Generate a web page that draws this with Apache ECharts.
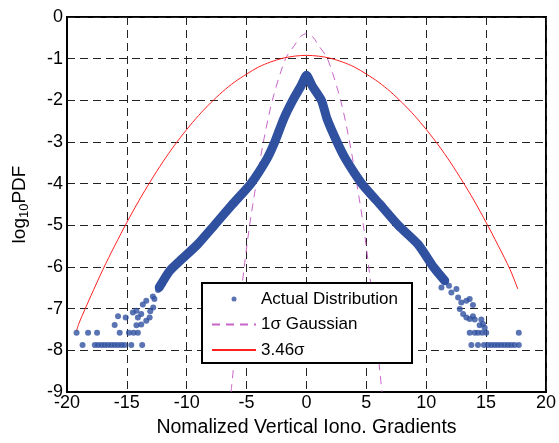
<!DOCTYPE html>
<html>
<head>
<meta charset="utf-8">
<script src="https://cdn.jsdelivr.net/npm/echarts@6/dist/echarts.min.js"></script>
<style>
  html, body { margin: 0; padding: 0; background: #fff; }
  #chart { width: 559px; height: 443px; }
</style>
</head>
<body>
<div id="chart"></div>
<script>
// axis ticks
const xTicks = [-20, -15, -10, -5, 0, 5, 10, 15, 20];
const yTicks = [-9, -8, -7, -6, -5, -4, -3, -2, -1, 0];

// 3.46 sigma gaussian (log10 pdf)
const redX = [-19.2, -19, -18, -17, -16, -15, -14, -13, -12, -11, -10, -9, -8, -7, -6, -5, -4, -3, -2, -1, 0,
  1, 2, 3, 4, 5, 6, 7, 8, 9, 10, 11, 12, 13, 14, 15, 16, 17, 17.65];
const redY = [-7.53, -7.35, -6.69, -6.06, -5.48, -4.93, -4.41, -3.93, -3.48, -3.07, -2.70, -2.36, -2.06, -1.79, -1.56, -1.37, -1.20, -1.08, -0.99, -0.94, -0.92,
  -0.94, -0.99, -1.08, -1.20, -1.37, -1.56, -1.79, -2.06, -2.36, -2.70, -3.07, -3.48, -3.93, -4.41, -4.93, -5.48, -6.06, -6.53];

// 1 sigma gaussian
const magX = [-6.3, -5.95, -5.6, -5.2, -4.75, -4.2, -3.6, -2.85, -1.75, -1.0, -0.5, 0, 0.5, 1.0, 1.75, 2.85, 3.6, 4.2, 4.75, 5.2, 5.6, 5.95, 6.3];
const magY = [-9, -8, -7, -6, -5, -4, -3, -2, -1, -0.68, -0.47, -0.40, -0.47, -0.68, -1, -2, -3, -4, -5, -6, -7, -8, -9];

// dense part of the actual distribution (thick band of dots)
const bandX = [-12.3, -11.45, -10.6, -9.1, -7.7, -6.2, -4.65, -3.3, -2.65, -1.9, -1.15, -0.45, 0,
  0.47, 1.25, 1.71, 2.55, 3.25, 4.62, 6.15, 7.67, 9.33, 10.6, 11.55];
const bandY = [-6.49, -6.1, -5.86, -5.46, -5.0, -4.5, -4.0, -3.4, -3.0, -2.44, -2.0, -1.65, -1.40,
  -1.65, -2.0, -2.44, -3.0, -3.4, -4.0, -4.5, -5.0, -5.46, -6.0, -6.33];

// sparse tail points of the actual distribution
const tailX = [
  -19.2, -18.24, -17.49, -15.6, -14.83, -14.44, -14.08,
  -18.7, -17.68, -17.4, -17.12, -16.85, -16.57, -16.29, -16.02, -15.74, -15.46, -15.19, -14.63, -13.72,
  -15.74, -16.02, -15.1, -14.5, -14.08, -13.8, -13.8, -13.38, -13.1, -13.05, -13.38, -12.7, -12.8, -14.2, -13.67, -12.83, -14.2, -12.4, -12.0,
  13.63, 14.05, 14.32, 14.66, 15.01, 17.73,
  13.77, 14.32, 14.82, 15.15, 15.43, 15.71, 15.98, 16.26, 16.54, 16.82, 17.09, 17.37, 17.73,
  11.27, 12.1, 12.52, 12.66, 12.93, 13.35, 13.63, 13.9, 12.8, 13.08, 13.35, 13.63, 13.9, 14.05, 14.6, 14.46, 14.88, 14.74, 11.55, 11.9, 11.4
];
const tailY = [
  -7.58, -7.58, -7.58, -7.58, -7.58, -7.58, -7.58,
  -7.87, -7.87, -7.87, -7.87, -7.87, -7.87, -7.87, -7.87, -7.87, -7.87, -7.87, -7.87, -7.87,
  -7.18, -7.39, -7.21, -7.09, -7.21, -7.13, -7.38, -7.29, -7.21, -7.06, -6.81, -6.77, -6.97, -7.4, -6.9, -6.71, -7.05, -6.55, -6.4,
  -7.58, -7.58, -7.58, -7.58, -7.58, -7.58,
  -7.87, -7.87, -7.87, -7.87, -7.87, -7.87, -7.87, -7.87, -7.87, -7.87, -7.87, -7.87, -7.87,
  -6.49, -6.61, -6.53, -6.73, -6.85, -6.81, -6.77, -6.91, -7.01, -7.13, -7.21, -7.25, -7.18, -7.26, -7.26, -7.4, -7.46, -7.37, -6.33, -6.45, -6.25
];

const zip = (xs, ys) => xs.map((x, i) => [x, ys[i]]);

const font = 'Liberation Sans, Arial, sans-serif';
const blue = '#3050A0';

const chart = echarts.init(document.getElementById('chart'));
chart.setOption({
  animation: false,
  backgroundColor: '#fff',
  grid: {
    left: 67,
    right: 11,
    top: 17,
    bottom: 47,
    show: true,
    borderColor: '#000',
    borderWidth: 2
  },
  legend: {
    left: 202,
    top: 283,
    orient: 'vertical',
    selectedMode: false,
    backgroundColor: '#fff',
    borderColor: '#000',
    borderWidth: 2,
    borderRadius: 0,
    padding: [7, 14, 4, 9],
    itemWidth: 44,
    itemHeight: 5,
    itemGap: 7.5,
    textStyle: { fontSize: 17, lineHeight: 18, color: '#000', fontFamily: font },
    data: [
      { name: 'Actual Distribution', icon: 'circle' },
      { name: '1σ Gaussian', itemStyle: { opacity: 0 } },
      { name: '3.46σ', itemStyle: { opacity: 0 } }
    ]
  },
  xAxis: {
    type: 'value',
    min: xTicks[0],
    max: xTicks[xTicks.length - 1],
    interval: 5,
    name: 'Nomalized Vertical Iono. Gradients',
    nameLocation: 'middle',
    nameGap: 26,
    nameTextStyle: { fontSize: 19.5, color: '#000', fontFamily: font },
    axisLine: { onZero: false, lineStyle: { color: '#000', width: 2 } },
    axisTick: { show: false },
    axisLabel: { fontSize: 18, color: '#000', fontFamily: font, margin: 2 },
    splitLine: { lineStyle: { color: '#222', width: 1, type: [8, 5] } }
  },
  yAxis: {
    type: 'value',
    min: yTicks[0],
    max: yTicks[yTicks.length - 1],
    interval: 1,
    name: '{a|log}{b|10}{a|PDF}',
    nameLocation: 'middle',
    nameGap: 36,
    nameRotate: 90,
    nameTextStyle: {
      color: '#000',
      fontFamily: font,
      rich: {
        a: { fontSize: 19, fontFamily: font, color: '#000' },
        b: { fontSize: 13, fontFamily: font, color: '#000', padding: [9, 0, 0, 0] }
      }
    },
    axisLine: { onZero: false, lineStyle: { color: '#000', width: 2 } },
    axisTick: { show: false },
    axisLabel: { fontSize: 18, color: '#000', fontFamily: font, margin: 4 },
    splitLine: { lineStyle: { color: '#222', width: 1, type: [8, 5] } }
  },
  series: [
    {
      name: 'Actual Distribution',
      type: 'scatter',
      symbol: 'circle',
      symbolSize: 6,
      itemStyle: { color: blue },
      data: zip(tailX, tailY),
      z: 4
    },
    {
      name: 'band',
      type: 'line',
      symbol: 'none',
      smooth: 0.2,
      lineStyle: { color: blue, width: 9, cap: 'round', join: 'round' },
      data: zip(bandX, bandY),
      z: 4
    },
    {
      name: '1σ Gaussian',
      type: 'line',
      symbol: 'none',
      smooth: 0.3,
      itemStyle: { color: '#C864C8' },
      lineStyle: { color: '#C864C8', width: 1, type: [8, 6] },
      data: zip(magX, magY),
      z: 3
    },
    {
      name: '3.46σ',
      type: 'line',
      symbol: 'none',
      smooth: 0.3,
      itemStyle: { color: '#FF2020' },
      lineStyle: { color: '#FF2020', width: 1 },
      data: zip(redX, redY),
      z: 3
    }
  ]
});
</script>
</body>
</html>
